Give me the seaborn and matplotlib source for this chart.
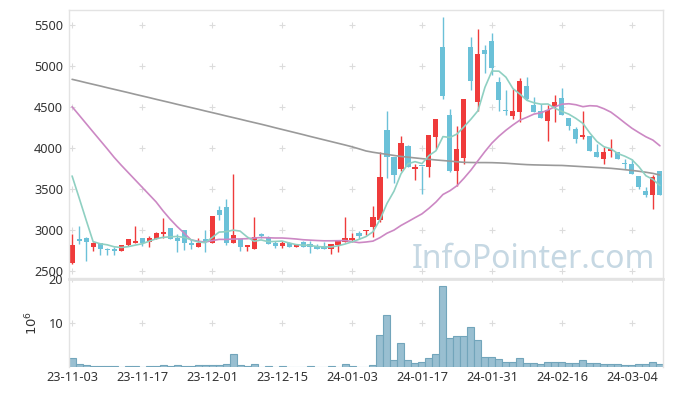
import numpy as np
import pandas as pd
import seaborn as sns
import matplotlib.pyplot as plt

# daily OHLC (KRW)
opens = [2590, 2885, 2900, 2790, 2835, 2765, 2769, 2745, 2810, 2842,
         2896, 2847, 2891, 2952, 3018, 2899, 2993, 2842, 2793, 2887,
         2842, 3241, 3278, 2842, 2891, 2793, 2769, 2948, 2896, 2842,
         2805, 2842, 2793, 2847, 2822, 2805, 2805, 2769, 2814, 2850,
         2871, 2964, 2981, 3034, 3119, 4218, 3892, 3742, 4023, 3742,
         3782, 3770, 4136, 5232, 4401, 3717, 3880, 5231, 4563, 5191,
         5301, 4804, 4456, 4393, 4441, 4755, 4523, 4450, 4332, 4495,
         4605, 4361, 4230, 4132, 4145, 3949, 3868, 3965, 3953, 3803,
         3799, 3660, 3473, 3428, 3717]
highs = [2950, 3040, 2910, 2854, 2840, 2771, 2783, 2814, 2890, 3046,
         2900, 2924, 2976, 3140, 3018, 2944, 2993, 2891, 2903, 2993,
         3170, 3290, 3375, 3677, 2891, 2814, 3152, 2960, 2927, 2866,
         2866, 2845, 2830, 2859, 2859, 2830, 2850, 2822, 2863, 3152,
         2964, 2988, 2993, 3290, 3953, 4450, 3892, 4145, 4031, 3799,
         3782, 4160, 4355, 5594, 4474, 4267, 4600, 5350, 5447, 5252,
         5399, 4861, 4706, 4715, 4849, 4861, 4617, 4532, 4523, 4642,
         4727, 4361, 4258, 4446, 4145, 4043, 4014, 4104, 3953, 3864,
         3864, 3660, 3526, 3665, 3717]
lows = [2585, 2822, 2612, 2740, 2692, 2688, 2692, 2745, 2805, 2835,
        2798, 2793, 2891, 2896, 2891, 2732, 2749, 2769, 2793, 2732,
        2840, 3119, 2810, 2842, 2744, 2741, 2769, 2899, 2830, 2777,
        2777, 2790, 2790, 2786, 2712, 2769, 2769, 2704, 2732, 2850,
        2850, 2883, 2932, 2908, 3098, 3628, 3567, 3721, 3770, 3604,
        3433, 3640, 3982, 4593, 3709, 3534, 3799, 4703, 4454, 4910,
        4890, 4450, 4401, 4349, 4312, 4580, 4441, 4364, 4078, 4312,
        4401, 4218, 4056, 4102, 3962, 3892, 3803, 3888, 3868, 3738,
        3684, 3497, 3396, 3250, 3428]
closes = [2816, 2866, 2855, 2838, 2769, 2753, 2745, 2810, 2887, 2862,
          2838, 2899, 2960, 2976, 2891, 2863, 2842, 2817, 2842, 2847,
          3168, 3180, 2842, 2936, 2793, 2814, 2908, 2927, 2830, 2805,
          2838, 2793, 2826, 2793, 2793, 2769, 2769, 2822, 2863, 2903,
          2903, 2920, 2993, 3156, 3644, 3892, 3668, 4056, 3770, 3770,
          3775, 4157, 4352, 4633, 3717, 3986, 4597, 4820, 5146, 5150,
          4979, 4588, 4450, 4450, 4816, 4596, 4441, 4364, 4462, 4556,
          4401, 4270, 4108, 4157, 3962, 3892, 3949, 3980, 3868, 3798,
          3684, 3516, 3430, 3644, 3428]
# volume in millions of shares
volumes = [2.05, 0.8, 0.45, 0.23, 0.23, 0.23, 0.23, 0.05, 0.23, 0.23,
           0.05, 0.23, 0.23, 0.45, 0.23, 0.45, 0.23, 0.23, 0.45, 0.45,
           0.45, 0.45, 0.68, 2.95, 0.45, 0.23, 0.68, 0.05, 0.23, 0.05,
           0.23, 0.05, 0.05, 0.05, 0.23, 0.05, 0.05, 0.23, 0.05, 0.7,
           0.23, 0.05, 0.05, 0.45, 7.3, 11.8, 1.6, 5.45, 1.6, 0.9,
           1.14, 2.05, 2.95, 18.5, 6.6, 7.05, 7.05, 9.1, 6.1, 2.27,
           2.27, 1.8, 1.14, 1.14, 2.05, 0.9, 0.9, 0.68, 1.14, 1.14,
           1.14, 0.9, 0.9, 1.6, 0.9, 0.9, 0.68, 0.68, 0.68, 0.45,
           0.45, 0.68, 0.68, 1.14, 0.68]

# moving-average values before a full window is available
ma5_head = [3656, 3390, 3120, 2855]
ma20_head = [4502, 4400, 4297, 4194, 4092, 3990, 3885, 3790, 3700, 3610,
             3520, 3430, 3340, 3230, 3130, 3040, 2960, 2875, 2860]
# long moving average (grey)
ma_long = [4837, 4817, 4796, 4776, 4756, 4735, 4715, 4695, 4675, 4654,
           4634, 4614, 4593, 4573, 4553, 4532, 4512, 4492, 4472, 4451,
           4431, 4411, 4390, 4370, 4350, 4329, 4309, 4289, 4268, 4246,
           4225, 4204, 4183, 4162, 4140, 4119, 4098, 4077, 4056, 4035,
           4013, 3988, 3962, 3946, 3933, 3920, 3907, 3895, 3886, 3877,
           3868, 3860, 3852, 3845, 3838, 3830, 3823, 3821, 3820, 3820,
           3819, 3816, 3812, 3806, 3800, 3795, 3792, 3790, 3788, 3786,
           3785, 3780, 3775, 3770, 3765, 3760, 3755, 3750, 3742, 3733,
           3724, 3714, 3702, 3688, 3668]

holidays = ['2023-12-25', '2023-12-29', '2024-01-01', '2024-02-09',
            '2024-02-12', '2024-03-01']

RED = '#ef3b3b'
CYAN = '#6bc1d8'

dates = [d for d in pd.bdate_range('2023-11-03', '2024-03-08')
         if d.strftime('%Y-%m-%d') not in holidays]

df = pd.DataFrame({'open': opens, 'high': highs, 'low': lows,
                   'close': closes, 'volume': volumes, 'ma_long': ma_long})
df['idx'] = np.arange(len(df))
df['ma5'] = df['close'].rolling(5).mean()
df.loc[:len(ma5_head) - 1, 'ma5'] = ma5_head
df['ma20'] = df['close'].rolling(20).mean()
df.loc[:len(ma20_head) - 1, 'ma20'] = ma20_head

sns.set_theme(style='white')
plt.rcParams['font.family'] = ['Noto Sans', 'DejaVu Sans']

W, H = 673, 396
fig = plt.figure(figsize=(W / 100, H / 100), dpi=100)
left, right = 69.3, 662.7
ax = fig.add_axes([left / W, 1 - 277.7 / H, (right - left) / W, (277.7 - 10.3) / H])
axv = fig.add_axes([left / W, 1 - 367.3 / H, (right - left) / W, (367.3 - 279.3) / H],
                   sharex=ax)

xticks = list(range(0, 81, 10))
yticks = [2500, 3000, 3500, 4000, 4500, 5000, 5500]
vticks = [10, 20]

# grid as small crosses
gx, gy = np.meshgrid(xticks, yticks)
ax.plot(gx.ravel(), gy.ravel(), '+', ms=5, mew=0.8, color='#dcdcdc', zorder=0)
gx, gy = np.meshgrid(xticks, vticks)
axv.plot(gx.ravel(), gy.ravel(), '+', ms=5, mew=0.8, color='#dcdcdc', zorder=0)

ax.text(0.987, 0.036, 'InfoPointer.com', transform=ax.transAxes, ha='right',
        va='baseline', fontsize=23, color='#c6d8e3', zorder=0.5)

# candles
up = df['close'] >= df['open']
colors = np.where(up, RED, CYAN)
ax.vlines(df['idx'], df['low'], df['high'], colors=colors, linewidth=1, zorder=2)
body_bottom = np.minimum(df['open'], df['close'])
body_height = np.maximum((df['close'] - df['open']).abs(), 14)
ax.bar(df['idx'], body_height, bottom=body_bottom, width=0.72, color=colors,
       linewidth=0, zorder=2)

sns.lineplot(data=df, x='idx', y='ma_long', color='#9a9a9a', linewidth=1.2, ax=ax, zorder=3)
sns.lineplot(data=df, x='idx', y='ma20', color='#cc88c4', linewidth=1.2, ax=ax, zorder=3)
sns.lineplot(data=df, x='idx', y='ma5', color='#8fd0c2', linewidth=1.2, ax=ax, zorder=3)

ax.set_xlim(-0.4, 84.4)
ax.set_ylim(2414, 5680)
ax.set_yticks(yticks)
ax.set_xlabel('')
ax.set_ylabel('')
ax.tick_params(axis='x', labelbottom=False, length=0)
ax.tick_params(axis='y', length=0, pad=4.5, labelsize=9.2, labelcolor='#333333')

# volume
axv.bar(df['idx'], df['volume'], width=1.0, color='#99bfd1', edgecolor='#72a5bb',
        linewidth=0.8, zorder=2)
axv.set_ylim(0, 20)
axv.set_yticks(vticks)
axv.set_xticks(xticks)
axv.set_xticklabels([dates[i].strftime('%y-%m-%d') for i in xticks])
axv.tick_params(axis='both', length=0, labelsize=9.2, labelcolor='#333333')
axv.tick_params(axis='y', pad=4.5)
axv.tick_params(axis='x', pad=3)
axv.set_ylabel('$10^6$', fontsize=9.5, color='#333333', labelpad=6)

for a in (ax, axv):
    for s in a.spines.values():
        s.set_color('#e3e3e3')
        s.set_linewidth(1)
axv.spines['top'].set_linewidth(2)
axv.spines['bottom'].set_visible(False)

fig.savefig('out.png', dpi=100)
